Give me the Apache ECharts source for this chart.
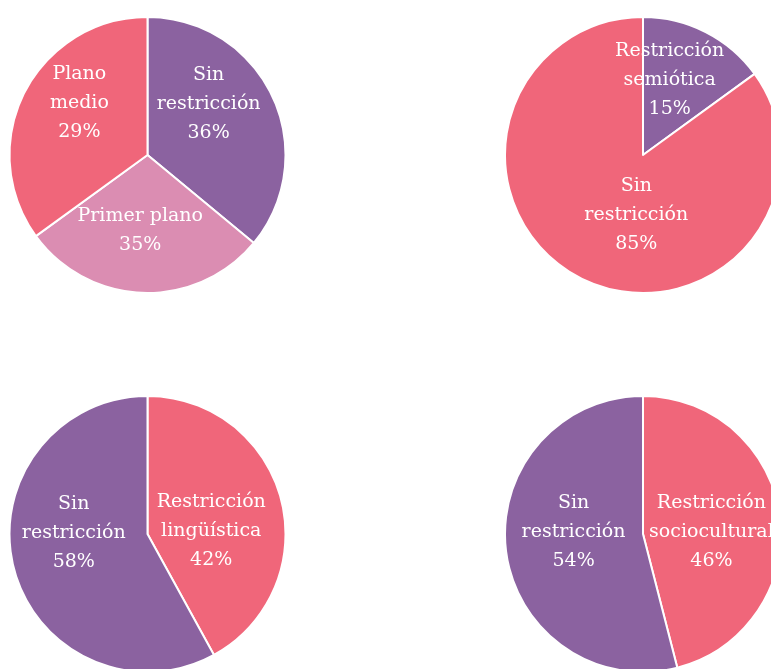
<!DOCTYPE html>
<html>
<head>
<meta charset="utf-8">
<script src="https://cdn.jsdelivr.net/npm/echarts@6/dist/echarts.min.js"></script>
<style>
  html, body { margin: 0; padding: 0; background: #fff; }
  #main { width: 771px; height: 669px; }
</style>
</head>
<body>
<div id="main"></div>
<script>
(function() {
  'use strict';

  // top left: plano
  var planoNames = ['Sin\nrestricción', 'Primer plano', 'Plano\nmedio'];
  var planoValues = [36, 29, 35];
  var planoLabels = ['36%', '35%', '29%'];

  // top right: semiótica
  var semioNames = ['Restricción\nsemiótica', 'Sin\nrestricción'];
  var semioValues = [15, 85];
  var semioLabels = ['15%', '85%'];

  // bottom left: lingüística
  var lingNames = ['Restricción\nlingüística', 'Sin\nrestricción'];
  var lingValues = [42, 58];
  var lingLabels = ['42%', '58%'];

  // bottom right: sociocultural
  var socioNames = ['Restricción\nsociocultural', 'Sin\nrestricción'];
  var socioValues = [46, 54];
  var socioLabels = ['46%', '54%'];

  var purple = '#8b62a0';
  var coral = '#f0667a';
  var pink = '#db8db2';

  var makeData = function(names, values, labels, colors, offsets) {
    return values.map(function(v, i) {
      return {
        name: names[i],
        value: v,
        itemStyle: { color: colors[i] },
        label: { formatter: names[i] + '\n' + labels[i], offset: offsets[i] }
      };
    });
  };

  var makePie = function(center, data) {
    return {
      type: 'pie',
      center: center,
      radius: 138,
      startAngle: 90,
      clockwise: true,
      animation: false,
      silent: true,
      itemStyle: { borderColor: '#ffffff', borderWidth: 2 },
      label: {
        show: true,
        position: 'inside',
        color: '#ffffff',
        fontFamily: 'DejaVu Serif',
        fontSize: 19,
        lineHeight: 29,
        align: 'center'
      },
      labelLine: { show: false },
      data: data
    };
  };

  var myChart = echarts.init(document.getElementById('main'));
  var option = {
    backgroundColor: '#ffffff',
    series: [
      makePie([147.5, 155], makeData(planoNames, planoValues, planoLabels,
        [purple, pink, coral], [[-4, -20], [-5, 4], [-4, -19]])),
      makePie([643, 155], makeData(semioNames, semioValues, semioLabels,
        [purple, coral], [[-6, -11], [26, -4]])),
      makePie([147.5, 534], makeData(lingNames, lingValues, lingLabels,
        [coral, purple], [[-6, 15], [-4, -19]])),
      makePie([643, 534], makeData(socioNames, socioValues, socioLabels,
        [coral, purple], [[-3, 7], [2, -11]]))
    ]
  };
  myChart.setOption(option);
})();
</script>
</body>
</html>
